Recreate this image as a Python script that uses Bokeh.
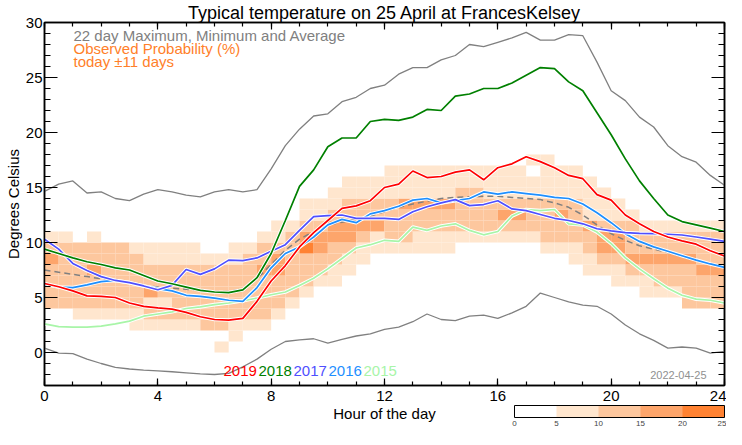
import math
from bokeh.plotting import figure
from bokeh.models import (ColumnDataSource, LinearAxis, Range1d, Label, ColorBar,
                          LinearColorMapper, FixedTicker)
from bokeh.embed import file_html
from bokeh.resources import INLINE

# ---------------- data ----------------
hours = [h / 2 for h in range(49)]  # 0 .. 24 in half-hour steps

t_max = [14.65, 15.3, 15.6, 14.5, 14.6, 14.0, 13.8, 14.4, 14.8, 14.6, 14.3, 14.15, 14.6, 14.8, 14.6, 14.8,
         16.7, 18.8, 20.3, 21.5, 21.7, 22.8, 23.2, 24.0, 24.3, 25.3, 25.9, 25.9, 26.6, 27.0, 28.0, 27.8,
         28.2, 28.6, 29.1, 28.4, 28.4, 28.9, 28.8, 26.4, 23.8, 22.9, 21.4, 20.5, 18.8, 17.8, 17.3, 16.1, 15.2]
t_min = [0.4, -0.05, -0.1, -0.6, -1.0, -1.35, -1.5, -1.6, -1.67, -1.75, -1.85, -1.95, -2.0, -1.9, -1.3, -0.6,
         0.3, 1.0, 1.15, 1.25, 0.85, 1.2, 1.5, 1.7, 2.1, 2.3, 2.8, 3.5, 3.0, 2.9, 3.3, 3.4,
         3.1, 3.6, 4.2, 5.4, 5.0, 4.6, 4.3, 4.2, 3.5, 2.5, 1.7, 1.1, 0.4, 0.5, 0.4, -0.05, 0.1]
t_avg = [7.5, 7.3, 7.1, 6.9, 6.7, 6.5, 6.3, 6.1, 5.95, 5.85, 5.75, 5.65, 5.55, 5.55, 5.8, 6.7,
         8.0, 9.3, 10.3, 11.0, 11.6, 11.85, 12.1, 12.4, 12.8, 13.2, 13.5, 13.75, 14.0, 14.1, 14.15, 14.2,
         14.2, 14.1, 14.0, 13.9, 13.6, 13.2, 12.5, 11.6, 10.8, 10.2, 9.7, 9.4, 9.1, 8.7, 8.35, 8.0, 7.75]

y2019 = [6.27, 5.98, 5.6, 5.15, 5.1, 5.0, 4.5, 4.2, 4.05, 3.95, 3.65, 3.25, 3.0, 2.95, 3.1, 4.65,
         6.5, 7.9, 9.6, 10.9, 12.0, 13.1, 13.33, 13.8, 15.0, 15.3, 16.5, 15.9, 16.0, 16.4, 16.6, 15.7,
         16.8, 17.15, 17.8, 17.35, 16.8, 16.1, 15.8, 14.35, 13.85, 12.5, 11.7, 11.0, 10.5, 10.15, 9.85, 9.25, 8.77]
y2018 = [9.4, 9.0, 8.6, 8.25, 8.0, 7.7, 7.5, 7.0, 6.5, 6.25, 5.95, 5.65, 5.5, 5.45, 5.7, 6.8,
         9.0, 12.0, 15.1, 16.6, 18.7, 19.5, 19.5, 21.0, 21.2, 21.1, 21.4, 22.1, 22.0, 23.3, 23.5, 24.0,
         24.0, 24.5, 25.2, 25.9, 25.8, 24.6, 23.8, 21.8, 19.8, 17.6, 15.6, 14.0, 12.5, 11.9, 11.6, 11.3, 11.0]
y2017 = [10.3, 9.4, 8.1, 7.45, 6.9, 6.55, 6.35, 6.05, 5.7, 6.1, 7.55, 7.1, 7.6, 8.4, 8.35, 8.6,
         9.2, 9.8, 11.1, 12.35, 12.45, 12.5, 12.2, 12.2, 12.2, 12.1, 12.8, 13.25, 13.6, 13.9, 13.35, 13.45,
         13.8, 13.05, 12.9, 12.55, 12.2, 12.0, 11.7, 11.25, 11.05, 10.9, 10.83, 10.8, 10.75, 10.68, 10.5, 10.3, 10.1]
y2016 = [6.2, 5.95, 5.9, 6.15, 6.45, 6.55, 6.35, 6.05, 5.8, 5.6, 5.2, 5.1, 4.95, 4.75, 4.65, 5.9,
         7.7, 9.0, 9.6, 10.5, 11.6, 12.1, 11.8, 12.6, 12.9, 13.3, 13.85, 14.0, 13.6, 13.8, 14.0, 14.6,
         14.4, 14.6, 14.45, 14.3, 14.1, 14.0, 13.5, 12.7, 11.8, 10.8, 10.1, 9.6, 9.2, 8.8, 8.4, 8.05, 7.74]
y2015 = [2.6, 2.35, 2.3, 2.3, 2.4, 2.6, 2.85, 3.3, 3.5, 3.7, 4.0, 4.15, 4.35, 4.5, 4.7, 4.95,
         5.25, 5.5, 6.1, 6.75, 7.6, 8.55, 9.5, 9.8, 10.2, 10.1, 11.4, 11.1, 11.5, 11.7, 11.1, 10.7,
         11.0, 12.4, 13.0, 12.9, 13.0, 11.7, 11.6, 10.95, 9.9, 8.6, 7.6, 6.7, 5.85, 5.2, 4.85, 4.75, 4.5]

years = ["2019", "2018", "2017", "2016", "2015"]
year_colors = ["#FF0000", "#008000", "#4F4FFF", "#1E8FFF", "#A8F5A8"]

# Observed probability class per half-hour column (index = 1-degree row from 0 C upward)
# 0: <5 %, 1: 5-10 %, 2: 10-15 %, 3: 15-20 %, 4: 20-25 %
prob_cols = [
    "000022223210000000", "000022222210000000", "000122222200000000", "000122232210000000",
    "000122222200000000", "000122222200000000", "001122222100000000", "001213221100000000",
    "001212221100000000", "001222221100000000", "001222221100000000", "002222221000000000",
    "102222221000000000", "011222221100000000", "001222222100000000", "001222232210000000",
    "000122233211000000", "000012222221000000", "000001222432110000", "000000122332110000",
    "000000112233211000", "000000011233221100", "000000001123221100", "000000000113221100",
    "000000000122221110", "000000000122231110", "000000000112231110", "000000000112231110",
    "000000000112231110", "000000000012222110", "000000000012222110", "000000000012221110",
    "000000000012321110", "000000000012321110", "000000000012221101", "000000000122221111",
    "000000000122321110", "000000001122221110", "000000011223111100", "000000012332111000",
    "000000112332110000", "000000123222100000", "000001123221000000", "000001223221000000",
    "000001223221000000", "000022223221000000", "000022232221000000", "000022232221000000",
]
prob_palette = ["#FFFFFF", "#FFE6CE", "#FDC79E", "#FDA56B", "#FF8232"]
prob_ticks = [0, 5, 10, 15, 20, 25]

x_ticks = [0, 4, 8, 12, 16, 20, 24]
y_ticks = [0, 5, 10, 15, 20, 25, 30]

# ---------------- figure ----------------
FONT = "Liberation Sans"
W, H = 726, 429
BL, BR, BT, BB = 44, 2, 22, 44
FW, FH = W - BL - BR, H - BT - BB

p = figure(width=W, height=H, output_backend="svg", toolbar_location=None,
           x_range=Range1d(0, 24), y_range=Range1d(-3, 30),
           min_border_left=BL, min_border_right=BR, min_border_top=BT, min_border_bottom=BB,
           x_axis_label="Hour of the day", y_axis_label="Degrees Celsius",
           title="Typical temperature on 25 April at FrancesKelsey")
p.grid.visible = False
p.outline_line_color = "black"
p.outline_line_width = 1.5
p.background_fill_color = "white"
p.border_fill_color = "white"

p.title.align = "center"
p.title.text_font = FONT
p.title.text_font_size = "18px"
p.title.text_font_style = "normal"
p.title.text_color = "black"
p.title.standoff = 0
p.title.offset = 0

# heatmap
left, right, bottom, top, prob = [], [], [], [], []
for j, col in enumerate(prob_cols):
    for r, ch in enumerate(col):
        c = int(ch)
        if c > 0:
            left.append(hours[j]); right.append(hours[j + 1])
            bottom.append(r); top.append(r + 1)
            prob.append(5 * c + 2.5)
mapper = LinearColorMapper(palette=prob_palette, low=0, high=25)
p.quad(left="left", right="right", bottom="bottom", top="top",
       source=ColumnDataSource(dict(left=left, right=right, bottom=bottom, top=top, prob=prob)),
       fill_color={"field": "prob", "transform": mapper}, line_color=None)

# max / min / average
p.line(hours, t_max, line_color="#808080", line_width=1.3)
p.line(hours, t_min, line_color="#808080", line_width=1.3)
p.line(hours, t_avg, line_color="#808080", line_width=1.5, line_dash="6 4")

series = {"2019": y2019, "2018": y2018, "2017": y2017, "2016": y2016, "2015": y2015}
for yr, col in reversed(list(zip(years, year_colors))):
    p.line(hours, series[yr], line_color="white", line_width=3.6)
    p.line(hours, series[yr], line_color=col, line_width=1.7)

# axes
def style_axis(ax, tick_major, tick_minor, labels=True):
    ax.axis_line_color = "black"
    ax.axis_line_width = 1.5
    ax.major_tick_in = tick_major
    ax.major_tick_out = 0
    ax.minor_tick_in = tick_minor
    ax.minor_tick_out = 0
    ax.major_tick_line_color = "black"
    ax.minor_tick_line_color = "black"
    ax.major_tick_line_width = 1.2
    ax.minor_tick_line_width = 1.2
    if labels:
        ax.major_label_text_font = FONT
        ax.major_label_text_font_size = "15px"
        ax.major_label_text_color = "black"
        ax.axis_label_text_font = FONT
        ax.axis_label_text_font_size = "15px"
        ax.axis_label_text_font_style = "normal"
        ax.axis_label_text_color = "black"
    else:
        ax.major_label_text_font_size = "0px"
        ax.major_label_text_color = None
        ax.major_label_standoff = 0

p.xaxis.ticker = FixedTicker(ticks=x_ticks, minor_ticks=list(range(0, 25)))
p.yaxis.ticker = FixedTicker(ticks=y_ticks, minor_ticks=list(range(-3, 31)))
style_axis(p.xaxis[0], 7, 4)
style_axis(p.yaxis[0], 13, 6)
p.xaxis.major_label_standoff = 5
p.yaxis.major_label_standoff = 2
p.xaxis.axis_label_standoff = 1
p.yaxis.axis_label_standoff = 1

ax_top = LinearAxis(ticker=FixedTicker(ticks=x_ticks, minor_ticks=list(range(0, 25))))
style_axis(ax_top, 7, 4, labels=False)
p.add_layout(ax_top, "above")
ax_right = LinearAxis(ticker=FixedTicker(ticks=y_ticks, minor_ticks=list(range(-3, 31))))
style_axis(ax_right, 13, 6, labels=False)
p.add_layout(ax_right, "right")

# texts inside the frame
def add_text(text, x, y, size, color, align="left", baseline="middle"):
    p.add_layout(Label(x=x, y=y, x_units="screen", y_units="screen", text=text,
                       text_font=FONT, text_font_size=size, text_color=color,
                       text_align=align, text_baseline=baseline))

add_text("22 day Maximum, Minimum and Average", 29, FH - 13, "15px", "#808080")
add_text("Observed Probability (%)", 29, FH - 26, "15px", "#FF7F2A")
add_text("today \u00b111 days", 29, FH - 39, "15px", "#FF7F2A")

year_x = [179, 214, 249, 284, 319]
for yr, col, xx in zip(years, year_colors, year_x):
    add_text(yr, xx, 15, "15px", col)
add_text("2022-04-25", FW - 18, 11, "11px", "#909090", align="right")

cb = ColorBar(color_mapper=mapper, orientation="horizontal", location=(FW - 210, -43),
              width=210, height=12, padding=0, ticker=FixedTicker(ticks=prob_ticks),
              major_label_text_font=FONT, major_label_text_font_size="8px",
              major_tick_line_color=None, minor_tick_line_color=None,
              bar_line_color="black", bar_line_width=1, label_standoff=3,
              background_fill_alpha=0, border_line_color=None)
p.add_layout(cb)

open("out.html", "w").write(file_html(p, INLINE))
